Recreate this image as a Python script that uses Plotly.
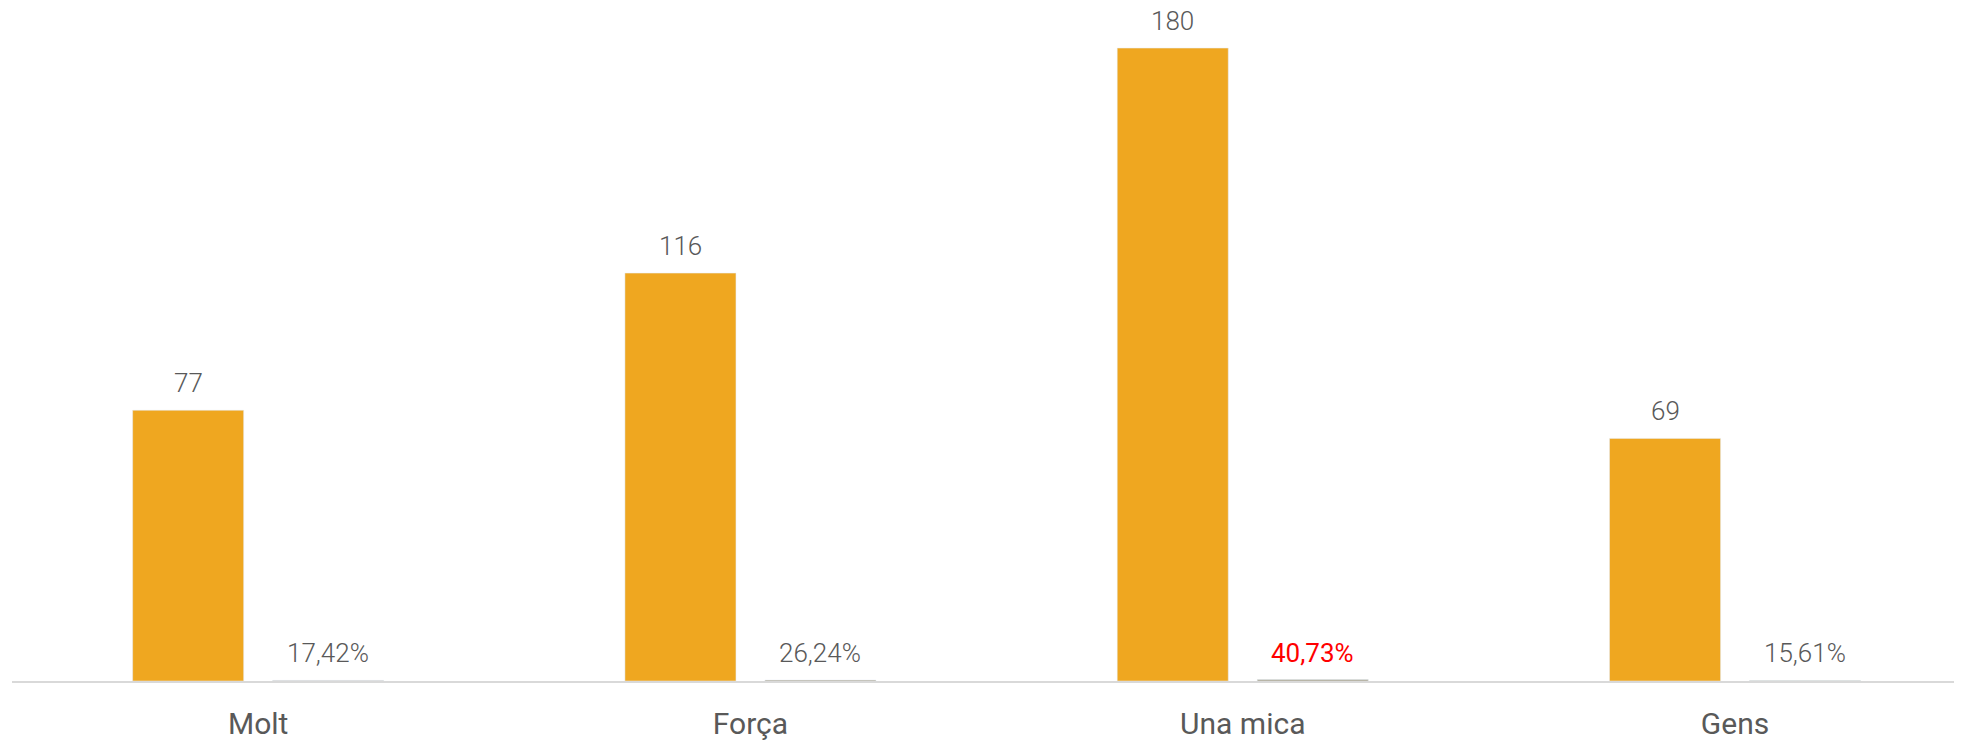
import plotly.graph_objects as go

categories = ["Molt", "Força", "Una mica", "Gens"]
counts = [77, 116, 180, 69]
shares = [0.1742, 0.2624, 0.4073, 0.1561]

BAR_COLOR = "#EFA720"
SHARE_COLOR = "#A8A28A"
TEXT_COLOR = "#595959"

fig = go.Figure()
fig.add_trace(go.Bar(x=categories, y=counts, marker_color=BAR_COLOR, name="Respostes"))
fig.add_trace(go.Bar(x=categories, y=shares, marker_color=SHARE_COLOR, name="Percentatge"))

annotations = []
max_share = max(shares)
for c, v in zip(categories, counts):
    annotations.append(dict(x=c, y=v, text=str(v), xref="x", yref="y", showarrow=False,
                            yanchor="bottom", yshift=10, xshift=-70,
                            font=dict(family="Roboto", size=26, color=TEXT_COLOR, weight=300)))
for c, s in zip(categories, shares):
    txt = f"{s*100:.2f}%".replace(".", ",")
    is_max = s == max_share
    annotations.append(dict(x=c, y=s, text=txt, xref="x", yref="y", showarrow=False,
                            yanchor="bottom", yshift=10, xshift=70,
                            font=dict(family="Roboto", size=26,
                                      color="#FF0000" if is_max else TEXT_COLOR,
                                      weight=400 if is_max else 300)))

# The page body adds an 8px margin, so the figure is sized to the remaining space.
fig.update_layout(
    width=1954, height=733,
    margin=dict(l=4, r=0, t=0, b=60),
    paper_bgcolor="white", plot_bgcolor="white",
    barmode="group", bargap=0.4312, bargroupgap=0.207,
    showlegend=False,
    annotations=annotations,
    font=dict(family="Roboto", color=TEXT_COLOR),
)
fig.update_xaxes(range=[-0.5, 3.461], showline=True, linecolor="#D9D9D9", linewidth=2,
                 showgrid=False, zeroline=False, ticks="",
                 tickfont=dict(family="Roboto", size=30, color=TEXT_COLOR),
                 ticklabelstandoff=15)
fig.update_yaxes(range=[0, 191.4], visible=False, showgrid=False, zeroline=False)

fig.write_html("out.html")
